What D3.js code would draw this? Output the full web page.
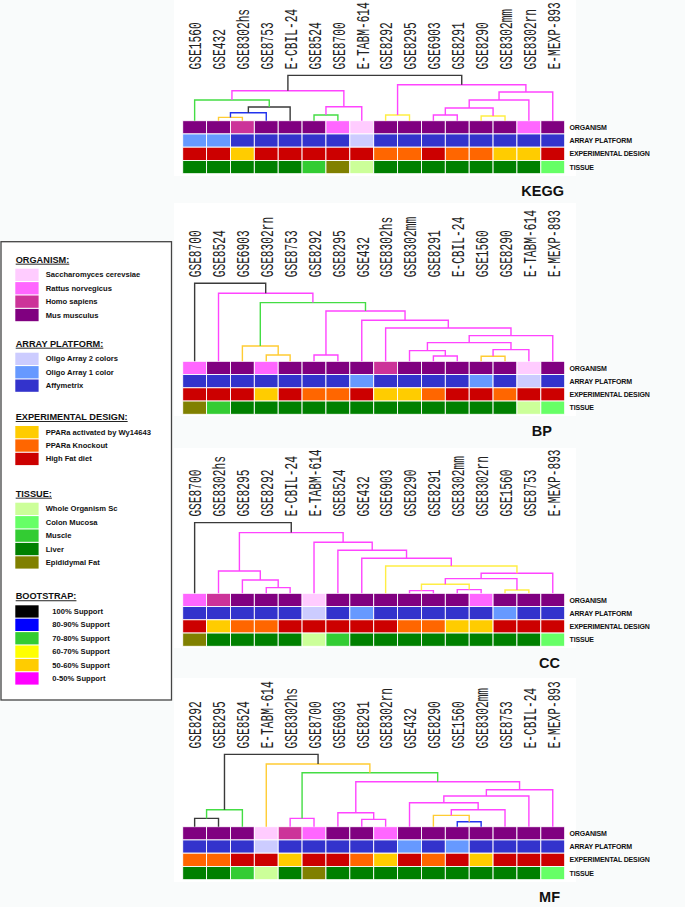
<!DOCTYPE html>
<html><head><meta charset="utf-8">
<script src="https://cdn.jsdelivr.net/npm/d3@7"></script>
<style>
html,body{margin:0;padding:0;background:#f9fbfb;}
svg{display:block;}
</style></head>
<body>
<svg id="chart" width="685" height="907"></svg>
<script>
// ---------- DATA ----------
const datasets   = ["GSE1560","GSE432","GSE8302hs","GSE8753","E-CBIL-24","GSE8524","GSE8700","E-TABM-614","GSE8292","GSE8295","GSE6903","GSE8291","GSE8290","GSE8302mm","GSE8302rn","E-MEXP-893"];
const organismOf = ["Mm","Mm","Hs","Mm","Mm","Mm","Rn","Sc","Mm","Mm","Mm","Mm","Mm","Mm","Rn","Mm"];
const platformOf = ["1c","1c","Af","Af","Af","Af","Af","2c","Af","Af","Af","Af","Af","Af","Af","Af"];
const designOf   = ["HF","HF","Wy","HF","HF","HF","HF","HF","KO","KO","HF","KO","KO","Wy","Wy","HF"];
const tissueOf   = ["Lv","Lv","Lv","Lv","Lv","Mu","EF","WO","Lv","Lv","Lv","Lv","Lv","Lv","Lv","CM"];

const organismKeys   = ["Sc","Rn","Hs","Mm"];
const organismLabels = ["Saccharomyces cerevsiae","Rattus norvegicus","Homo sapiens","Mus musculus"];
const organismColors = ["#ffccff","#ff66ff","#cc3399","#800080"];
const platformKeys   = ["2c","1c","Af"];
const platformLabels = ["Oligo Array 2 colors","Oligo Array 1 color","Affymetrix"];
const platformColors = ["#ccccff","#6699ff","#3333cc"];
const designKeys     = ["Wy","KO","HF"];
const designLabels   = ["PPARa activated by Wy14643","PPARa Knockout","High Fat diet"];
const designColors   = ["#ffcc00","#ff6600","#cc0000"];
const tissueKeys     = ["WO","CM","Mu","Lv","EF"];
const tissueLabels   = ["Whole Organism Sc","Colon Mucosa","Muscle","Liver","Epididymal Fat"];
const tissueColors   = ["#ccff99","#66ff66","#33cc33","#008000","#808000"];
const supportKeys    = ["100","80","70","60","50","0"];
const supportLabels  = ["100% Support","80-90% Support","70-80% Support","60-70% Support","50-60% Support","0-50% Support"];
const supportColors  = ["#000000","#0000ff","#33cc33","#ffff00","#ffcc00","#ff00ff"];
const lineColors     = ["#3a3a3a","#2233ee","#44dd44","#ffee44","#ffcc33","#ff44ff"];

const rowNames = ["ORGANISM","ARRAY PLATFORM","EXPERIMENTAL DESIGN","TISSUE"];

const keggOrder = ["GSE1560","GSE432","GSE8302hs","GSE8753","E-CBIL-24","GSE8524","GSE8700","E-TABM-614","GSE8292","GSE8295","GSE6903","GSE8291","GSE8290","GSE8302mm","GSE8302rn","E-MEXP-893"];
const keggMerges = [
  ["GSE432","GSE8302hs",3.3,"50"], [0,"GSE8753",8,"80"], [1,"E-CBIL-24",13.7,"100"], ["GSE1560",2,20.7,"70"],
  ["GSE8524","GSE8700",5.7,"70"], [4,"E-TABM-614",14,"0"], [3,5,30,"0"],
  ["GSE8292","GSE8295",5.7,"60"], ["GSE6903","GSE8291",5.7,"0"], ["GSE8290","GSE8302mm",4.7,"60"],
  [8,9,12.7,"0"], [10,"GSE8302rn",20.7,"0"], [11,"E-MEXP-893",28.7,"0"], [7,12,36,"0"], [6,13,45.3,"100"]
];
const bpOrder = ["GSE8700","GSE8524","GSE6903","GSE8302rn","GSE8753","GSE8292","GSE8295","GSE432","GSE8302hs","GSE8302mm","GSE8291","E-CBIL-24","GSE1560","GSE8290","E-TABM-614","E-MEXP-893"];
const bpMerges = [
  ["GSE8302rn","GSE8753",6.3,"50"], ["GSE6903",0,15.3,"50"], ["GSE8292","GSE8295",6.3,"0"],
  ["GSE8291","E-CBIL-24",5.3,"0"], ["GSE8302mm",3,10.7,"0"], ["GSE1560","GSE8290",5,"50"],
  [5,"E-TABM-614",11.7,"0"], [4,6,18.7,"0"], [7,"E-MEXP-893",25.7,"0"], ["GSE8302hs",8,33.3,"0"],
  ["GSE432",9,41,"0"], [2,10,50.3,"0"], [1,11,58.7,"70"], ["GSE8524",12,68,"0"], ["GSE8700",13,78,"100"]
];
const ccOrder = ["GSE8700","GSE8302hs","GSE8295","GSE8292","E-CBIL-24","E-TABM-614","GSE8524","GSE432","GSE6903","GSE8290","GSE8291","GSE8302mm","GSE8302rn","GSE1560","GSE8753","E-MEXP-893"];
const ccMerges = [
  ["GSE8292","E-CBIL-24",5.7,"0"], ["GSE8295",0,13.3,"0"], ["GSE8302hs",1,22.3,"0"],
  ["GSE8290","GSE8291",2.7,"0"], ["GSE8302mm","GSE8302rn",3.7,"0"], [3,4,9,"60"],
  ["GSE1560","GSE8753",3.3,"60"], [5,6,14.7,"0"], [7,"E-MEXP-893",20,"0"], ["GSE6903",8,27.3,"60"],
  ["GSE432",9,35,"0"], ["GSE8524",10,43,"0"], ["E-TABM-614",11,51,"0"], [2,12,60.7,"0"], ["GSE8700",13,70.7,"100"]
];
const mfOrder = ["GSE8292","GSE8295","GSE8524","E-TABM-614","GSE8302hs","GSE8700","GSE6903","GSE8291","GSE8302rn","GSE432","GSE8290","GSE1560","GSE8302mm","GSE8753","E-CBIL-24","E-MEXP-893"];
const mfMerges = [
  ["GSE8292","GSE8295",8.3,"100"], [0,"GSE8524",17,"70"], ["GSE8302hs","GSE8700",8.3,"0"],
  ["GSE8291","GSE8302rn",7.3,"0"], ["GSE6903",3,14,"0"], ["GSE1560","GSE8302mm",5,"80"],
  ["GSE8290",5,11.3,"50"], [6,"GSE8753",17,"0"], ["GSE432",7,24,"0"], [8,"E-CBIL-24",30.7,"0"],
  [9,"E-MEXP-893",37,"0"], [4,10,45,"0"], [2,11,54,"70"], ["E-TABM-614",12,62.7,"50"], [1,13,72.3,"100"]
];
const panelTitles = ["KEGG","BP","CC","MF"];

// ---------- LAYOUT ----------
const panelLayout = [
  {order:keggOrder, merges:keggMerges, cellTop:120.7, titleX:564, bgTop:0,   bgBottom:176},
  {order:bpOrder,   merges:bpMerges,   cellTop:361.3, titleX:552, bgTop:203, bgBottom:416},
  {order:ccOrder,   merges:ccMerges,   cellTop:593.3, titleX:560, bgTop:448, bgBottom:648},
  {order:mfOrder,   merges:mfMerges,   cellTop:826.7, titleX:560, bgTop:678, bgBottom:882}
];
const gridLeft = 182.7, gridRight = 564.7, rowH = 13.25;

const svg = d3.select("#chart");

const colorScales = [
  d3.scaleOrdinal(organismKeys, organismColors),
  d3.scaleOrdinal(platformKeys, platformColors),
  d3.scaleOrdinal(designKeys, designColors),
  d3.scaleOrdinal(tissueKeys, tissueColors)
];
const attrArrays = [organismOf, platformOf, designOf, tissueOf];
const lineColor = d3.scaleOrdinal(supportKeys, lineColors);
const idx = name => datasets.indexOf(name);

panelLayout.forEach((p, pi) => {
  const g = svg.append("g");
  g.append("rect").attr("x",174).attr("y",p.bgTop).attr("width",402).attr("height",p.bgBottom-p.bgTop).attr("fill","#ffffff");

  const x = d3.scaleBand().domain(p.order).range([gridLeft, gridRight]);
  const yRow = d3.scaleBand().domain(rowNames).range([p.cellTop, p.cellTop + rowH*4]);
  const maxH = d3.max(p.merges, m => m[2]);
  const yH = d3.scaleLinear().domain([0, 100]).range([p.cellTop, p.cellTop - 100]);

  // cells
  rowNames.forEach((rn, ri) => {
    g.selectAll(null).data(p.order).enter().append("rect")
      .attr("x", d => x(d)).attr("y", yRow(rn))
      .attr("width", x.bandwidth()).attr("height", yRow.bandwidth())
      .attr("fill", d => colorScales[ri](attrArrays[ri][idx(d)]))
      .attr("stroke", "#ffffff").attr("stroke-width", 0.9);
    g.append("text").attr("x", 569.5).attr("y", yRow(rn) + yRow.bandwidth()/2 + 2.6)
      .attr("font-family","Liberation Sans, Arial, sans-serif").attr("font-weight","bold")
      .attr("font-size", 7).attr("letter-spacing", -0.15).attr("fill","#111").text(rn);
  });

  // dendrogram
  const nodes = [];
  const pos = c => typeof c === "string" ? {x: x(c) + x.bandwidth()/2, h: 0} : nodes[c];
  p.merges.forEach(m => {
    const a = pos(m[0]), b = pos(m[1]);
    nodes.push({x: (a.x + b.x)/2, h: m[2]});
    g.append("path")
      .attr("d", `M${a.x},${yH(a.h)}V${yH(m[2])}H${b.x}V${yH(b.h)}`)
      .attr("fill","none").attr("stroke", lineColor(m[3])).attr("stroke-width", 1.4);
  });

  // leaf labels
  const labelBase = yH(maxH) - 6;
  g.selectAll(null).data(p.order).enter().append("text")
    .attr("transform", d => `translate(${x(d) + x.bandwidth()/2 + 6.8},${labelBase}) rotate(-90) scale(0.59,1)`)
    .attr("font-family","Liberation Mono, Courier New, monospace")
    .attr("font-size", 19).attr("fill","#222").text(d => d);

  // title
  g.append("text").attr("x", p.titleX).attr("y", p.cellTop + rowH*4 + 22)
    .attr("text-anchor","end").attr("font-family","Liberation Sans, Arial, sans-serif")
    .attr("font-weight","bold").attr("font-size",14.5).attr("fill","#111").text(panelTitles[pi]);
});

// ---------- LEGEND ----------
const lg = svg.append("g");
lg.append("rect").attr("x",1).attr("y",241.7).attr("width",170.5).attr("height",458.3)
  .attr("fill","#ffffff").attr("stroke","#444").attr("stroke-width",1.3);
const legendGroups = [
  {title:"ORGANISM:", labels:organismLabels, colors:organismColors, y:262.7, tx:45.7},
  {title:"ARRAY PLATFORM:", labels:platformLabels, colors:platformColors, y:346.7, tx:45.7},
  {title:"EXPERIMENTAL DESIGN:", labels:designLabels, colors:designColors, y:420, tx:45.7},
  {title:"TISSUE:", labels:tissueLabels, colors:tissueColors, y:496.7, tx:45.7},
  {title:"BOOTSTRAP:", labels:supportLabels, colors:supportColors, y:599.3, tx:52.3}
];
legendGroups.forEach(gr => {
  lg.append("text").attr("x",15.7).attr("y",gr.y)
    .attr("font-family","Liberation Sans, Arial, sans-serif").attr("font-weight","bold")
    .attr("font-size",9.2).attr("text-decoration","underline").attr("fill","#111").text(gr.title);
  gr.labels.forEach((lab, i) => {
    const top = gr.y + 6 + i*13.4;
    lg.append("rect").attr("x",15.3).attr("y",top).attr("width",23.3).attr("height",12.3).attr("fill",gr.colors[i]);
    lg.append("text").attr("x",gr.tx).attr("y",top+8.6)
      .attr("font-family","Liberation Sans, Arial, sans-serif").attr("font-weight","bold")
      .attr("font-size",7.6).attr("fill","#111").text(lab);
  });
});
</script>
</body></html>
